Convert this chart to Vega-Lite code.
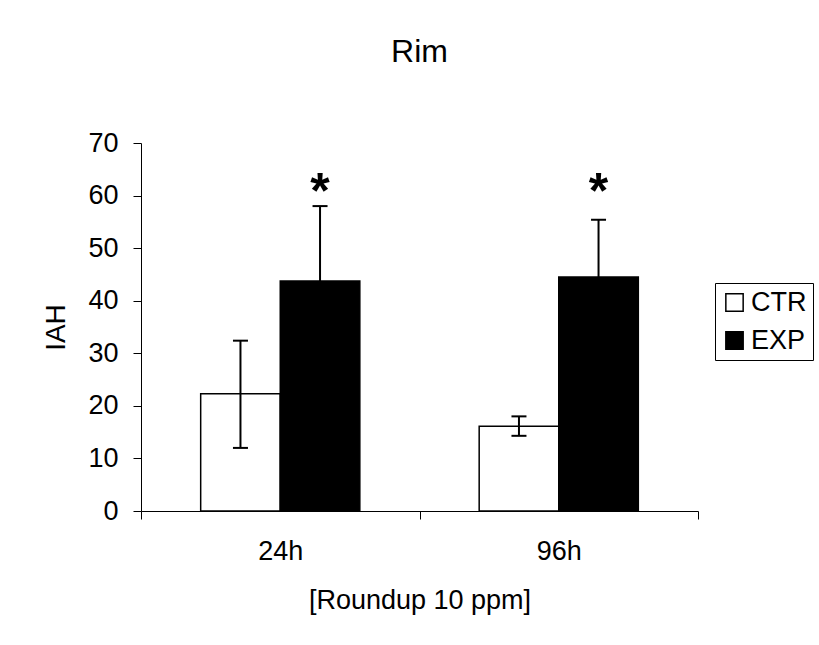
{
  "$schema": "https://vega.github.io/schema/vega-lite/v6.json",
  "width": 557,
  "height": 368,
  "autosize": {"type": "none"},
  "padding": {"left": 141, "top": 143, "right": 121, "bottom": 134},
  "background": "white",
  "title": {"text": "Rim", "fontSize": 32, "font": "Liberation Sans", "fontWeight": "normal", "color": "black", "offset": 60},
  "data": {"values": [
    {"time": "24h", "group": "CTR", "value": 22.3, "lo": 12.0, "hi": 32.4},
    {"time": "24h", "group": "EXP", "value": 43.75, "lo": 43.75, "hi": 58.0, "star": "*", "star_y": 62.3},
    {"time": "96h", "group": "CTR", "value": 16.1, "lo": 14.3, "hi": 18.0},
    {"time": "96h", "group": "EXP", "value": 44.5, "lo": 44.5, "hi": 55.4, "star": "*", "star_y": 62.3}
  ]},
  "encoding": {
    "x": {
      "field": "time", "type": "nominal",
      "scale": {"paddingInner": 0, "paddingOuter": 0},
      "axis": {
        "title": "[Roundup 10 ppm]", "labelAngle": 0, "tickBand": "extent",
        "labelFontSize": 27, "labelPadding": 19, "titleFontSize": 27, "titlePadding": 23,
        "tickSize": 8, "domainColor": "black", "tickColor": "black", "labelColor": "black", "titleColor": "black",
        "titleFontWeight": "normal", "labelFont": "Liberation Sans", "titleFont": "Liberation Sans"
      }
    },
    "xOffset": {"field": "group", "scale": {"paddingInner": 0, "paddingOuter": 0.75}}
  },
  "layer": [
    {
      "mark": {"type": "bar", "stroke": "black", "strokeWidth": 1.5},
      "encoding": {
        "y": {
          "field": "value", "type": "quantitative",
          "scale": {"domain": [0, 70], "nice": false},
          "axis": {
            "title": "IAH", "values": [0, 10, 20, 30, 40, 50, 60, 70], "grid": false,
            "labelFontSize": 27, "labelPadding": 15, "titleFontSize": 28, "titlePadding": 17,
            "tickSize": 8, "domainColor": "black", "tickColor": "black", "labelColor": "black", "titleColor": "black",
            "titleFontWeight": "normal", "labelFont": "Liberation Sans", "titleFont": "Liberation Sans"
          }
        },
        "fill": {
          "field": "group", "type": "nominal",
          "scale": {"domain": ["CTR", "EXP"], "range": ["white", "black"]},
          "legend": {
            "orient": "none", "legendX": 574, "legendY": 140, "title": null,
            "strokeColor": "black", "padding": 6, "symbolType": "square", "symbolSize": 300,
            "symbolStrokeColor": "black", "symbolStrokeWidth": 1.5, "symbolOpacity": 1,
            "labelFontSize": 27, "labelFont": "Liberation Sans", "labelColor": "black", "labelOffset": 3, "rowPadding": 10
          }
        }
      }
    },
    {
      "mark": {"type": "rule", "strokeWidth": 2, "color": "black"},
      "encoding": {"y": {"field": "lo", "type": "quantitative"}, "y2": {"field": "hi"}}
    },
    {
      "mark": {"type": "tick", "thickness": 2, "size": 15, "color": "black", "orient": "horizontal", "opacity": 1},
      "encoding": {"y": {"field": "hi", "type": "quantitative"}}
    },
    {
      "transform": [{"filter": "datum.group == 'CTR'"}],
      "mark": {"type": "tick", "thickness": 2, "size": 15, "color": "black", "orient": "horizontal", "opacity": 1},
      "encoding": {"y": {"field": "lo", "type": "quantitative"}}
    },
    {
      "transform": [{"filter": "isValid(datum.star)"}],
      "mark": {"type": "text", "fontSize": 50, "fontWeight": "bold", "font": "Liberation Sans", "baseline": "middle", "dy": 10, "color": "black"},
      "encoding": {"y": {"field": "star_y", "type": "quantitative"}, "text": {"field": "star"}}
    }
  ],
  "config": {"view": {"stroke": null}}
}
